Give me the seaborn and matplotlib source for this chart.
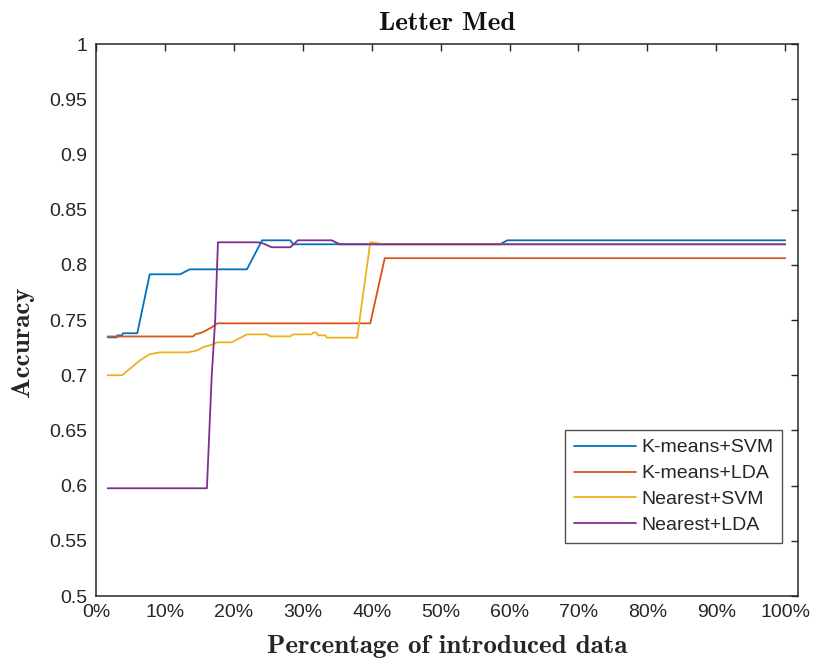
import numpy as np
import pandas as pd
import matplotlib
matplotlib.use("Agg")
import matplotlib.pyplot as plt
import seaborn as sns

# ---- data (percent of introduced data, accuracy) ----
kmeans_svm_x = [1.7, 3.0, 3.1, 3.8, 3.9, 6.0, 7.8, 12.2, 13.6, 21.9, 24.1, 28.2, 28.6, 58.6, 59.7, 100]
kmeans_svm_y = [0.7343, 0.7343, 0.7361, 0.7361, 0.738, 0.738, 0.7914, 0.7914, 0.7959, 0.7959, 0.8222, 0.8222, 0.8186, 0.8186, 0.8222, 0.8222]

kmeans_lda_x = [1.7, 14.1, 14.4, 15.5, 16.8, 17.6, 39.8, 41.9, 100]
kmeans_lda_y = [0.7351, 0.7351, 0.737, 0.7389, 0.7434, 0.747, 0.747, 0.806, 0.806]

nearest_svm_x = [1.7, 3.8, 6.4, 7.8, 9.3, 13.4, 14.7, 15.5, 17.0, 17.6, 19.7, 21.9, 24.8, 25.3, 28.2,
                 28.6, 31.3, 31.5, 32.0, 32.2, 33.3, 33.5, 37.9, 39.8, 41.2, 41.5, 100]
nearest_svm_y = [0.700, 0.700, 0.7135, 0.719, 0.7207, 0.7207, 0.7225, 0.7253, 0.728, 0.7298, 0.7298, 0.737, 0.737, 0.7352, 0.7352,
                 0.737, 0.737, 0.7386, 0.7386, 0.7361, 0.7361, 0.734, 0.734, 0.8205, 0.8192, 0.8186, 0.8186]

nearest_lda_x = [1.7, 16.1, 16.8, 17.3, 17.7, 23.5, 24.2, 25.5, 28.2, 29.3, 34.2, 35.4, 100]
nearest_lda_y = [0.5976, 0.5976, 0.700, 0.75, 0.8204, 0.8204, 0.8195, 0.8159, 0.8159, 0.8222, 0.8222, 0.8186, 0.8186]

series_names = ["K-means+SVM", "K-means+LDA", "Nearest+SVM", "Nearest+LDA"]
series_colors = ["#0072BD", "#D95319", "#EDB120", "#7E2F8E"]

x_ticks = [0, 10, 20, 30, 40, 50, 60, 70, 80, 90, 100]
x_tick_labels = ["0%", "10%", "20%", "30%", "40%", "50%", "60%", "70%", "80%", "90%", "100%"]
y_ticks = [0.5, 0.55, 0.6, 0.65, 0.7, 0.75, 0.8, 0.85, 0.9, 0.95, 1.0]
y_tick_labels = ["0.5", "0.55", "0.6", "0.65", "0.7", "0.75", "0.8", "0.85", "0.9", "0.95", "1"]

title_text = "Letter Med"
x_label = "Percentage of introduced data"
y_label = "Accuracy"

# ---- build long table ----
frames = []
for name, xs, ys in zip(series_names,
                        [kmeans_svm_x, kmeans_lda_x, nearest_svm_x, nearest_lda_x],
                        [kmeans_svm_y, kmeans_lda_y, nearest_svm_y, nearest_lda_y]):
    frames.append(pd.DataFrame({"pct": xs, "acc": ys, "method": name}))
df = pd.concat(frames, ignore_index=True)

sns.set_style("white")
plt.rcParams["font.family"] = ["Liberation Sans", "DejaVu Sans"]

fig = plt.figure(figsize=(8.13, 6.64), dpi=100)
ax = fig.add_axes([0.118, 0.1024, 0.8631, 0.8313])

sns.lineplot(data=df, x="pct", y="acc", hue="method", hue_order=series_names,
             palette=series_colors, estimator=None, sort=False, linewidth=1.3, ax=ax)

ax.set_xlim(0, 101.8)
ax.set_ylim(0.5, 1.0)
ax.set_xticks(x_ticks)
ax.set_xticklabels(x_tick_labels)
ax.set_yticks(y_ticks)
ax.set_yticklabels(y_tick_labels)
ax.tick_params(axis="both", direction="in", length=5, width=1.0, color="#262626",
               labelsize=14, labelcolor="#262626", top=True, right=True, pad=6)
for s in ax.spines.values():
    s.set_color("#262626")
    s.set_linewidth(1.1)
    s.set_visible(True)

ax.set_title(title_text, fontfamily="cmb10", fontsize=19.5, pad=10, color="#111111")
ax.set_xlabel(x_label, fontfamily="cmb10", fontsize=19.5, labelpad=10, color="#262626")
ax.set_ylabel(y_label, fontfamily="cmb10", fontsize=19.5, labelpad=6, color="#262626")
ax.yaxis.set_label_coords(-0.088, 0.46)

leg = ax.legend(loc="lower right", bbox_to_anchor=(0.978, 0.096), frameon=True,
                fontsize=14, handlelength=3.2, handletextpad=0.25, labelspacing=0.43,
                borderpad=0.45, fancybox=False, borderaxespad=0)
leg.get_frame().set_edgecolor("#262626")
leg.get_frame().set_linewidth(1.0)
for line in leg.get_lines():
    line.set_linewidth(1.3)
for t in leg.get_texts():
    t.set_color("#262626")

fig.savefig("out.png", dpi=100, facecolor="white")
